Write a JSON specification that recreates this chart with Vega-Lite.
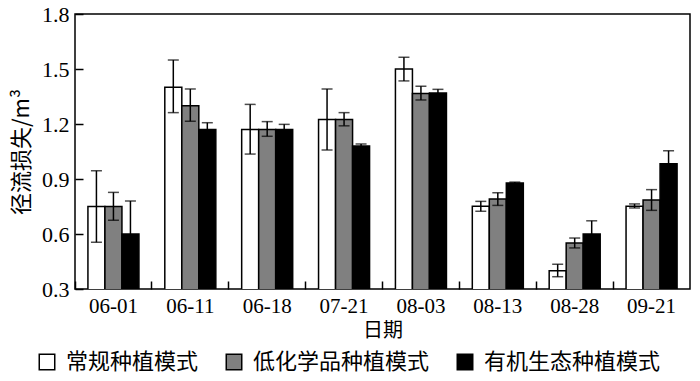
{
  "$schema": "https://vega.github.io/schema/vega-lite/v6.json",
  "autosize": {"type": "none"},
  "padding": {"left": 75, "top": 14, "right": 10, "bottom": 92},
  "width": 615,
  "height": 275,
  "background": "white",
  "config": {
    "view": {"stroke": "black", "strokeWidth": 1.5},
    "axis": {"labelFont": "Liberation Serif", "labelColor": "black", "titleColor": "black", "titleFont": "Noto Sans CJK SC", "titleFontWeight": "normal"}
  },
  "data": {
    "values": [
      {"date": "06-01", "mode": "常规种植模式", "value": 0.75, "lo": 0.555, "hi": 0.945},
      {"date": "06-01", "mode": "低化学品种植模式", "value": 0.75, "lo": 0.675, "hi": 0.827},
      {"date": "06-01", "mode": "有机生态种植模式", "value": 0.60, "lo": 0.42, "hi": 0.78},
      {"date": "06-11", "mode": "常规种植模式", "value": 1.40, "lo": 1.262, "hi": 1.549},
      {"date": "06-11", "mode": "低化学品种植模式", "value": 1.30, "lo": 1.215, "hi": 1.391},
      {"date": "06-11", "mode": "有机生态种植模式", "value": 1.17, "lo": 1.135, "hi": 1.207},
      {"date": "06-18", "mode": "常规种植模式", "value": 1.17, "lo": 1.036, "hi": 1.307},
      {"date": "06-18", "mode": "低化学品种植模式", "value": 1.17, "lo": 1.133, "hi": 1.213},
      {"date": "06-18", "mode": "有机生态种植模式", "value": 1.17, "lo": 1.142, "hi": 1.198},
      {"date": "07-21", "mode": "常规种植模式", "value": 1.225, "lo": 1.058, "hi": 1.391},
      {"date": "07-21", "mode": "低化学品种植模式", "value": 1.225, "lo": 1.19, "hi": 1.262},
      {"date": "07-21", "mode": "有机生态种植模式", "value": 1.08, "lo": 1.068, "hi": 1.091},
      {"date": "08-03", "mode": "常规种植模式", "value": 1.50, "lo": 1.435, "hi": 1.564},
      {"date": "08-03", "mode": "低化学品种植模式", "value": 1.367, "lo": 1.331, "hi": 1.406},
      {"date": "08-03", "mode": "有机生态种植模式", "value": 1.369, "lo": 1.349, "hi": 1.389},
      {"date": "08-13", "mode": "常规种植模式", "value": 0.752, "lo": 0.724, "hi": 0.778},
      {"date": "08-13", "mode": "低化学品种植模式", "value": 0.791, "lo": 0.756, "hi": 0.825},
      {"date": "08-13", "mode": "有机生态种植模式", "value": 0.878, "lo": 0.873, "hi": 0.883},
      {"date": "08-28", "mode": "常规种植模式", "value": 0.40, "lo": 0.367, "hi": 0.435},
      {"date": "08-28", "mode": "低化学品种植模式", "value": 0.551, "lo": 0.524, "hi": 0.578},
      {"date": "08-28", "mode": "有机生态种植模式", "value": 0.60, "lo": 0.53, "hi": 0.672},
      {"date": "09-21", "mode": "常规种植模式", "value": 0.752, "lo": 0.742, "hi": 0.764},
      {"date": "09-21", "mode": "低化学品种植模式", "value": 0.785, "lo": 0.729, "hi": 0.842},
      {"date": "09-21", "mode": "有机生态种植模式", "value": 0.983, "lo": 0.912, "hi": 1.054}
    ]
  },
  "encoding": {
    "x": {
      "field": "date", "type": "nominal", "sort": null,
      "scale": {"paddingInner": 0, "paddingOuter": 0},
      "axis": {
        "title": "日期", "titleFontSize": 20, "titlePadding": 4,
        "labelFontSize": 21, "labelAngle": 0, "labelPadding": 6,
        "domain": false, "offset": -8, "tickSize": 8, "tickWidth": 1.5, "tickColor": "black",
        "bandPosition": 0, "zindex": 1
      }
    },
    "xOffset": {
      "field": "mode", "type": "nominal",
      "sort": ["常规种植模式", "低化学品种植模式", "有机生态种植模式"],
      "scale": {"paddingInner": 0, "paddingOuter": 0.76}
    }
  },
  "layer": [
    {
      "mark": {"type": "bar", "stroke": "black", "strokeWidth": 1.5, "clip": true},
      "encoding": {
        "y": {
          "field": "value", "type": "quantitative",
          "scale": {"domain": [0.3, 1.8], "zero": false, "nice": false},
          "axis": {
            "title": "径流损失/m³", "titleFontSize": 22, "titlePadding": 8,
            "labelFontSize": 22, "values": [0.3, 0.6, 0.9, 1.2, 1.5, 1.8],
            "format": ".1f", "grid": false, "domain": false, "offset": -8,
            "tickSize": 8, "tickWidth": 1.5, "tickColor": "black", "labelPadding": 6, "zindex": 1
          }
        },
        "fill": {
          "field": "mode", "type": "nominal",
          "sort": ["常规种植模式", "低化学品种植模式", "有机生态种植模式"],
          "scale": {"range": ["#ffffff", "#808080", "#000000"]},
          "legend": {
            "title": null, "orient": "none", "direction": "horizontal",
            "legendX": -39, "legendY": 337,
            "symbolType": "square", "symbolSize": 240, "symbolStrokeColor": "black", "symbolStrokeWidth": 1.5,
            "labelFont": "Noto Sans CJK SC", "labelFontSize": 22, "labelColor": "black",
            "columnPadding": 24, "labelOffset": 8, "labelLimit": 300
          }
        }
      }
    },
    {
      "mark": {"type": "rule", "color": "black", "strokeWidth": 1.5},
      "encoding": {
        "y": {"field": "lo", "type": "quantitative"},
        "y2": {"field": "hi"}
      }
    },
    {
      "mark": {"type": "tick", "color": "black", "thickness": 1.5, "size": 11},
      "encoding": {"y": {"field": "lo", "type": "quantitative"}}
    },
    {
      "mark": {"type": "tick", "color": "black", "thickness": 1.5, "size": 11},
      "encoding": {"y": {"field": "hi", "type": "quantitative"}}
    }
  ]
}
